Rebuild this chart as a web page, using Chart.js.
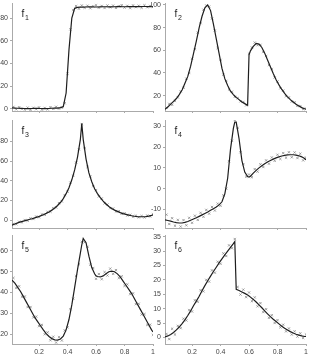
<!DOCTYPE html>
<html>
<head>
<meta charset="utf-8">
<script src="https://cdn.jsdelivr.net/npm/chart.js@4.4.1/dist/chart.umd.min.js"></script>
<style>
  body { margin: 0; background: #fff; width: 315px; height: 359px; position: relative; overflow: hidden; }
  canvas { position: absolute; }
</style>
</head>
<body>
<script>
// ----------------------------
// Data
// ----------------------------
const xLine = [0.01,0.03,0.05,0.07,0.09,0.11,0.13,0.15,0.17,0.19,0.21,0.23,0.25,0.27,0.29,0.31,0.33,0.35,0.37,0.39,0.41,0.43,0.45,0.47,0.49,
  0.50,0.51,0.53,0.55,0.57,0.59,0.60,0.61,0.63,0.65,0.67,0.69,0.71,0.73,0.75,0.77,0.79,0.81,0.83,0.85,0.87,0.89,0.91,0.93,0.95,0.97,0.99,1.00];
const xNoisy = [0.02,0.04,0.06,0.08,0.10,0.12,0.14,0.16,0.18,0.20,0.22,0.24,0.26,0.28,0.30,0.32,0.34,0.36,0.38,0.40,
  0.42,0.44,0.46,0.48,0.50,0.52,0.54,0.56,0.58,0.60,0.62,0.64,0.66,0.68,0.70,0.72,0.74,0.76,0.78,0.80,
  0.82,0.84,0.86,0.88,0.90,0.92,0.94,0.96,0.98,1.00];

const f1Line = [1.0,0.8,0.6,0.5,0.4,0.3,0.3,0.4,0.5,0.5,0.4,0.3,0.3,0.4,0.6,0.7,0.8,1.2,2.0,14,52,80,88.5,89.3,89.5,
  89.6,89.6,89.7,89.8,89.8,89.7,89.7,89.7,89.8,89.9,89.9,89.8,89.8,89.9,90.0,90.0,89.9,89.9,90.0,90.0,90.1,90.0,90.0,90.1,90.1,90.0,90.0,90.0];
const f1Noisy = [1.8,-0.3,1.5,0.2,-0.5,1.2,-0.8,1.0,-0.2,1.4,-0.6,0.9,-0.4,1.6,0.1,1.9,0.3,1.1,5,31,
  70,87,90.5,88.2,91.0,89.0,90.8,88.6,90.3,91.2,89.1,90.6,88.8,91.0,89.4,90.9,88.9,90.4,91.3,89.2,
  90.7,88.7,91.1,89.6,90.8,89.0,91.2,89.5,90.6,89.8];

const f2Line = [8,10,12.5,15,17.5,21,25,31,37,46,57,68,80,90,97.5,100,95,83,70,57,44,35,29,24,21,
  19.7,18.5,16.5,14.5,13,11.5,56,59.5,63.5,66,65.5,62.5,57.5,51.5,45.5,39.5,34,29.5,25.5,22,19,16.5,14.5,12.5,11,9.5,8.5,8];
const f2Noisy = [9.5,12.8,12.0,15.5,18.5,23.9,27,35,40,52.5,61,75.5,84,95.8,99.5,98.5,88,77.5,62,51.5,
  38.5,33,25.5,23.5,19,17.8,15,14.5,11.5,57,62.5,66.8,64.5,64.8,58.5,55,47,43.5,36,32.5,
  26.5,24.5,19.5,18.5,14.8,14.2,11,10.8,8.2,8.6];

const f3Line = [-5,-3.8,-2.6,-1.6,-0.8,0,0.8,1.6,2.5,3.4,4.5,5.6,7,8.5,10.3,12.5,15,18,22,27,33,41,51,64,82,
  98,82,62,48,39,32,29.5,27,23,19.5,16.5,14,12,10.3,9,7.8,6.8,6,5.2,4.6,4.1,3.8,3.6,3.6,3.8,4.3,5,5.5];
const f3Noisy = [-3.6,-4.0,-1.5,-2.0,0.3,-0.4,2.0,1.3,3.8,3.1,5.9,5.6,8.6,8.7,12.3,13.0,17.4,19.2,25.5,29.0,
  38.2,45.0,58.6,72.0,97.5,73.2,54.0,44.6,34.6,30.6,24.2,22.1,17.2,16.0,12.3,11.9,9.0,9.2,6.6,7.1,
  4.9,5.6,3.7,4.6,3.0,4.3,2.9,4.8,3.9,6.2];

const f4Line = [-15,-15.3,-15.6,-16,-16.3,-16.5,-16.5,-16.2,-15.8,-15.2,-14.6,-14,-13.3,-12.6,-11.9,-11.2,-10.4,-9.6,-8.8,-7.8,-6.3,-2.5,5,19,29,
  32,32,24,13.5,8,5.8,5.6,6,7.5,8.8,10,11,12,12.8,13.5,14.2,14.8,15.3,15.7,16,16.2,16.3,16.3,16.1,15.8,15.3,14.5,13.8];
const f4Noisy = [-12.5,-17.0,-14.2,-17.8,-15.0,-18.2,-15.1,-17.6,-14.0,-16.4,-13.0,-15.0,-11.6,-13.5,-10.2,-12.0,-8.8,-10.5,-7.2,-8.2,
  -3.2,0.0,13.2,23.0,33.0,29.2,17.5,11.8,5.8,6.8,5.5,9.4,8.2,11.7,10.4,13.6,12.0,15.0,13.4,16.3,
  14.3,17.1,14.9,17.5,15.1,17.4,14.7,16.8,13.6,15.0];

const f5Line = [46,44.5,42.5,40.5,38,35.5,33,30.5,28,26,24,22,20.2,18.8,17.8,17.2,17.1,17.6,19,22,27,34,42.5,51,59,
  63,66,64,57.5,52,49,48,47.7,47.5,48,49,50,50.3,50,49,47.5,45.5,43.5,41.5,39.5,37,34.5,32,29.5,27,24.5,22,21];
const f5Noisy = [47.0,42.2,43.0,38.0,38.1,33.0,33.0,28.0,28.4,23.8,24.4,19.9,20.8,17.0,18.7,15.9,18.5,16.9,21.8,23.2,
  32.0,37.0,48.0,53.6,64.4,64.2,62.0,53.4,51.8,46.6,48.9,46.4,49.8,48.2,51.5,49.0,50.8,47.0,47.8,43.2,
  43.9,39.2,39.6,34.4,34.6,29.4,29.6,24.4,24.5,19.6];

const f6Line = [0.2,0.5,1.0,1.7,2.6,3.6,4.8,6.1,7.6,9.2,11.0,12.6,14.3,16.2,18.0,19.7,21.3,22.9,24.4,25.9,27.3,28.7,30.0,31.3,32.6,
  33.3,16.7,16.3,15.8,15.3,14.7,14.4,14.0,13.2,12.3,11.3,10.3,9.2,8.2,7.2,6.3,5.5,4.7,3.9,3.2,2.6,2.0,1.5,1.1,0.8,0.5,0.3,0.3];
const f6Noisy = [1.2,-0.6,3.0,1.0,4.0,3.2,6.5,5.9,9.5,9.0,12.9,12.4,16.4,16.0,20.0,19.4,23.3,22.5,26.3,25.6,
  29.2,28.3,32.0,31.0,34.2,17.5,14.9,16.6,14.0,15.6,12.6,13.9,10.8,11.9,8.8,9.8,6.8,7.7,5.0,6.0,
  3.5,4.4,2.1,3.1,1.0,2.1,0.3,1.4,-0.2,1.0];

// tick labels
const xTicks = [0.2, 0.4, 0.6, 0.8, 1];
const f1Ticks = [0, 20, 40, 60, 80];
const f2Ticks = [20, 40, 60, 80, 100];
const f3Ticks = [0, 20, 40, 60, 80];
const f4Ticks = [-10, 0, 10, 20, 30];
const f5Ticks = [20, 30, 40, 50, 60];
const f6Ticks = [0, 5, 10, 15, 20, 25, 30, 35];

// ----------------------------
// Panels
// ----------------------------
const panels = [
  { sub: "1", line: f1Line, noisy: f1Noisy, ticks: f1Ticks, min: -1.8, max: 93.2, box: [12, 3, 153, 111], xLabels: false },
  { sub: "2", line: f2Line, noisy: f2Noisy, ticks: f2Ticks, min: 6.5, max: 101.7, box: [165, 3, 306, 111], xLabels: false },
  { sub: "3", line: f3Line, noisy: f3Noisy, ticks: f3Ticks, min: -7.8, max: 101.6, box: [12, 120, 153, 228], xLabels: false },
  { sub: "4", line: f4Line, noisy: f4Noisy, ticks: f4Ticks, min: -18.9, max: 33, box: [165, 120, 306, 228], xLabels: false },
  { sub: "5", line: f5Line, noisy: f5Noisy, ticks: f5Ticks, min: 15.2, max: 67.7, box: [12, 235, 153, 344], xLabels: true },
  { sub: "6", line: f6Line, noisy: f6Noisy, ticks: f6Ticks, min: -2.3, max: 35.6, box: [165, 235, 306, 344], xLabels: true }
];

Chart.defaults.font.family = "'Liberation Sans', Arial, sans-serif";
Chart.defaults.font.size = 7;
Chart.defaults.color = "#444";

// "f" with subscript in the top left corner
const nameLabel = {
  id: "nameLabel",
  afterDraw(chart, args, opts) {
    const ctx = chart.ctx;
    const a = chart.chartArea;
    ctx.save();
    ctx.fillStyle = "#222";
    ctx.font = "10px 'Liberation Sans', Arial, sans-serif";
    ctx.fillText("f", a.left + 9.5, a.top + 13.5);
    ctx.font = "7px 'Liberation Sans', Arial, sans-serif";
    ctx.fillText(opts.sub, a.left + 13, a.top + 17);
    ctx.restore();
  }
};

const PAD = 5, YW = 14, XH = 15;

panels.forEach(p => {
  const [L, T, R, B] = p.box;
  const canvas = document.createElement("canvas");
  canvas.width = R - L + YW + PAD;
  canvas.height = B - T + PAD + XH;
  canvas.style.left = (L - YW) + "px";
  canvas.style.top = (T - PAD) + "px";
  document.body.appendChild(canvas);

  new Chart(canvas.getContext("2d"), {
    type: "scatter",
    data: {
      datasets: [
        {
          data: xLine.map((x, i) => ({ x: x, y: p.line[i] })),
          showLine: true,
          borderColor: "#1e1e1e",
          borderWidth: 1.2,
          pointRadius: 0,
          tension: 0
        },
        {
          data: xNoisy.map((x, i) => ({ x: x, y: p.noisy[i] })),
          pointStyle: "crossRot",
          pointRadius: 1.6,
          borderColor: "#8a8a8a",
          borderWidth: 0.8,
          backgroundColor: "#8a8a8a"
        }
      ]
    },
    options: {
      responsive: false,
      animation: false,
      devicePixelRatio: 1,
      layout: { padding: { left: 0, top: PAD, right: PAD, bottom: 0 } },
      plugins: { legend: { display: false }, tooltip: { enabled: false }, nameLabel: { sub: p.sub } },
      scales: {
        x: {
          type: "linear",
          min: 0.01,
          max: 1,
          afterBuildTicks: s => { s.ticks = xTicks.map(v => ({ value: v })); },
          afterFit: s => { s.height = XH; s.paddingLeft = 0; s.paddingRight = 0; },
          ticks: { display: p.xLabels, padding: 2, maxRotation: 0, callback: v => String(v) },
          grid: { drawOnChartArea: false, drawTicks: true, tickLength: 2, color: "#aaa" },
          border: { color: "#aaa", width: 1 }
        },
        y: {
          min: p.min,
          max: p.max,
          afterBuildTicks: s => { s.ticks = p.ticks.map(v => ({ value: v })); },
          afterFit: s => { s.width = YW; s.paddingTop = 0; s.paddingBottom = 0; },
          ticks: { padding: 2, callback: v => String(v) },
          grid: { drawOnChartArea: false, drawTicks: true, tickLength: 2, color: "#aaa" },
          border: { color: "#aaa", width: 1 }
        }
      }
    },
    plugins: [nameLabel]
  });
});
</script>
</body>
</html>
